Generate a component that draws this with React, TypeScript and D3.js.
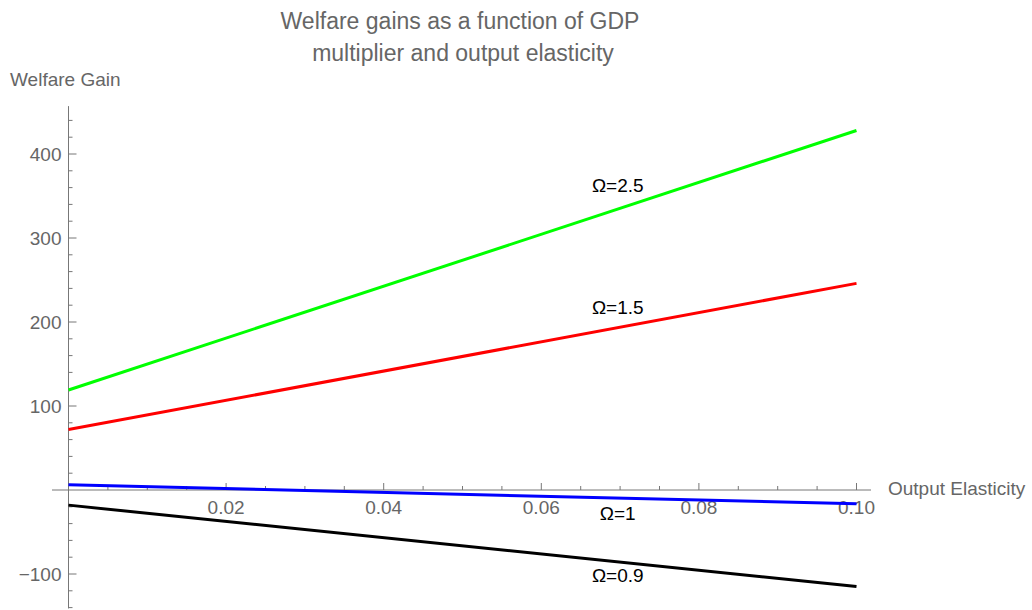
import React from "react";
import * as d3 from "d3";

// Output elasticity sample points and welfare gain for each multiplier Ω
const elasticity = [0, 0.1];
const gainOmega25 = [119, 428];
const gainOmega15 = [72, 246];
const gainOmega1 = [6.3, -16.5];
const gainOmega09 = [-18, -115];

const seriesNames = ["Ω=2.5", "Ω=1.5", "Ω=1", "Ω=0.9"];
const seriesColors = ["#00ff00", "#ff0000", "#0000ff", "#000000"];
// label anchor (elasticity, value) for each curve label
const labelX = [0.0697, 0.0697, 0.0697, 0.0697];
const labelY = [355, 209, -36, -109.5];

const xMajorTicks = [0.02, 0.04, 0.06, 0.08, 0.1];
const yMajorTicks = [-100, 100, 200, 300, 400];

const W = 1032;
const H = 610;
const FONT = "'Liberation Sans', Arial, sans-serif";
const AXIS = "#777777";
const TEXT = "#666666";
const FS = 19;

export default function App() {
  const x = d3.scaleLinear().domain([0, 0.1]).range([68.5, 856.5]);
  const y = d3.scaleLinear().domain([0, 400]).range([490, 154]);

  const series = [gainOmega25, gainOmega15, gainOmega1, gainOmega09];
  const line = d3
    .line<[number, number]>()
    .x((d) => x(d[0]))
    .y((d) => y(d[1]));

  const xMinor = d3.range(0.005, 0.1001, 0.005).filter((v) => !xMajorTicks.some((m) => Math.abs(m - v) < 1e-9));
  const yMinor = d3.range(-140, 460, 20).filter((v) => !yMajorTicks.includes(v) && v !== 0);

  const x0 = x(0);
  const y0 = y(0);

  return (
    <svg width={W} height={H} style={{ position: "absolute", left: 0, top: 0 }} fontFamily={FONT}>
      <rect width={W} height={H} fill="#ffffff" />
      {/* title */}
      <text x={460} y={29} textAnchor="middle" fontSize={23} fill={TEXT}>
        Welfare gains as a function of GDP
      </text>
      <text x={463} y={61} textAnchor="middle" fontSize={23} fill={TEXT}>
        multiplier and output elasticity
      </text>

      {/* axes */}
      <line x1={52} x2={871} y1={y0} y2={y0} stroke={AXIS} strokeWidth={1} />
      <line x1={x0} x2={x0} y1={y(457)} y2={y(-141)} stroke={AXIS} strokeWidth={1} />
      {xMajorTicks.map((t) => (
        <g key={"xt" + t}>
          <line x1={x(t)} x2={x(t)} y1={y0} y2={y0 - 7} stroke={AXIS} />
          <text x={x(t)} y={y0 + 24} textAnchor="middle" fontSize={FS} fill={TEXT}>
            {d3.format(".2f")(t)}
          </text>
        </g>
      ))}
      {xMinor.map((t) => (
        <line key={"xm" + t} x1={x(t)} x2={x(t)} y1={y0} y2={y0 - 4} stroke={AXIS} />
      ))}
      {yMajorTicks.map((t) => (
        <g key={"yt" + t}>
          <line x1={x0} x2={x0 + 8} y1={y(t)} y2={y(t)} stroke={AXIS} />
          <text x={x0 - 7} y={y(t) + 6.5} textAnchor="end" fontSize={FS} fill={TEXT}>
            {t < 0 ? "\u2212" + Math.abs(t) : String(t)}
          </text>
        </g>
      ))}
      {yMinor.map((t) => (
        <line key={"ym" + t} x1={x0} x2={x0 + 4} y1={y(t)} y2={y(t)} stroke={AXIS} />
      ))}
      <text x={10} y={86} fontSize={FS} fill={TEXT}>
        Welfare Gain
      </text>
      <text x={888} y={495} fontSize={FS} fill={TEXT}>
        Output Elasticity
      </text>

      {/* curves */}
      {series.map((vals, i) => (
        <path
          key={seriesNames[i]}
          d={line(elasticity.map((e, j) => [e, vals[j]] as [number, number])) || ""}
          fill="none"
          stroke={seriesColors[i]}
          strokeWidth={3}
        />
      ))}
      {seriesNames.map((n, i) => (
        <text key={"lb" + n} x={x(labelX[i])} y={y(labelY[i])} textAnchor="middle" fontSize={FS} fill="#000000">
          {n}
        </text>
      ))}
    </svg>
  );
}
